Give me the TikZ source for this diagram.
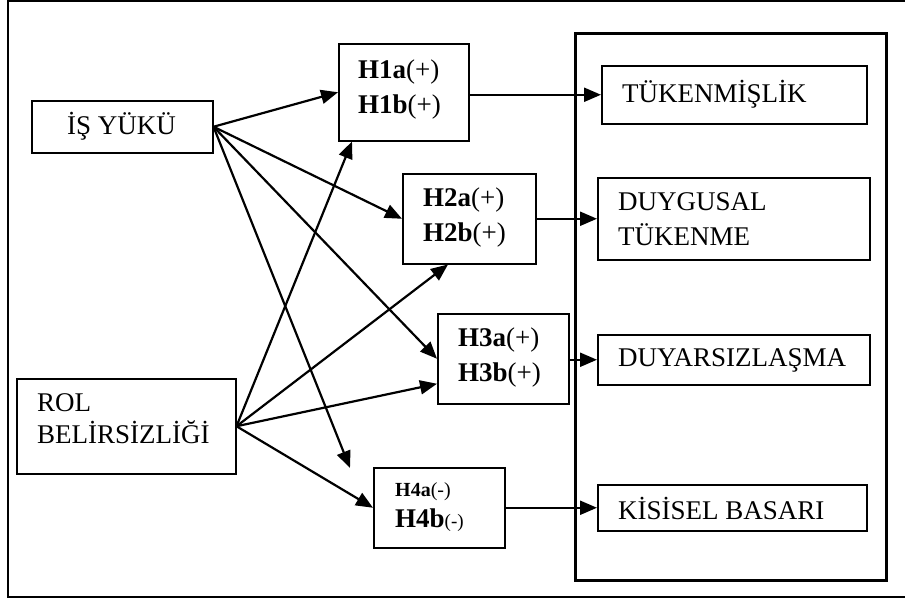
\documentclass[tikz,border=0pt]{standalone}
\usepackage{fontspec}
\setmainfont{Liberation Serif}
\usetikzlibrary{arrows.meta}
\begin{document}
\begin{tikzpicture}[x=1pt,y=-1pt,
  box/.style={draw, line width=1.5pt, inner sep=0pt, anchor=north west},
  lbl/.style={anchor=west, inner sep=0pt, align=left, font=\fontsize{27}{35}\selectfont},
  hyp/.style={anchor=west, inner sep=0pt, align=left, font=\fontsize{27}{35}\selectfont},
  arr/.style={line width=2.2pt, -{Triangle[length=17pt,width=14pt]}}]
\useasboundingbox (0,0) rectangle (905,600);
% outer frame (open on the right)
\draw[line width=2pt] (905,1) -- (8,1) -- (8,597) -- (905,597);
% container
\node[box, line width=3pt, minimum width=311pt, minimum height=547pt] (cont) at (574,32) {};
% boxes
\node[box, minimum width=181pt, minimum height=52pt] (isy) at (31,100) {};
\node[box, minimum width=219pt, minimum height=95pt] (rol) at (16,378) {};
\node[box, minimum width=130pt, minimum height=97pt] (h1) at (338,43) {};
\node[box, minimum width=133pt, minimum height=90pt] (h2) at (402,173) {};
\node[box, minimum width=131pt, minimum height=90pt] (h3) at (437,313) {};
\node[box, minimum width=131pt, minimum height=80pt] (h4) at (373,467) {};
\node[box, minimum width=265pt, minimum height=58pt] (tuk) at (601,65) {};
\node[box, minimum width=272pt, minimum height=82pt] (duy) at (597,177) {};
\node[box, minimum width=272pt, minimum height=50pt] (dyr) at (597,334) {};
\node[box, minimum width=269pt, minimum height=46pt] (kis) at (597,484) {};
% texts
\node[lbl] (tisy) at (67,126) {İŞ YÜKÜ};
\node[lbl, font=\fontsize{27}{32}\selectfont] (trol) at (37,419) {ROL\\BELİRSİZLİĞİ};
\node[hyp] (th1) at (358,89.5) {\textbf{H1a}(+)\\\textbf{H1b}(+)};
\node[hyp] (th2) at (423,217.5) {\textbf{H2a}(+)\\\textbf{H2b}(+)};
\node[hyp] (th3) at (458,357.5) {\textbf{H3a}(+)\\\textbf{H3b}(+)};
\node[hyp, font=\fontsize{27}{31}\selectfont] (th4) at (395,507) {{\fontsize{20}{22}\selectfont\textbf{H4a}(-)}\\\textbf{H4b}{\fontsize{19}{20}\selectfont(-)}};
\node[lbl] (ttuk) at (622,94) {TÜKENMİŞLİK};
\node[lbl] (tduy) at (618,219.5) {DUYGUSAL\\TÜKENME};
\node[lbl] (tdyr) at (618,360) {DUYARSIZLAŞMA};
\node[lbl] (tkis) at (618,508) {KİSİSEL BASARI};
% free end
\coordinate (free) at (350,468);
% arrows from İŞ YÜKÜ
\draw[arr] (isy.east) -- (h1.west);
\draw[arr] (isy.east) -- (h2.west);
\draw[arr] (isy.east) -- (h3.west);
\draw[arr] (isy.east) -- (free);
% arrows from ROL BELİRSİZLİĞİ
\draw[arr] (rol.east) -- ([xshift=14pt]h1.south west);
\draw[arr] (rol.east) -- ([xshift=46pt]h2.south west);
\draw[arr] (rol.east) -- ([yshift=-25pt]h3.west);
\draw[arr] (rol.east) -- (h4.west);
% arrows to outcomes
\draw[arr] (h1.east |- tuk.west) -- (tuk.west);
\draw[arr] (h2.east |- duy.west) -- (duy.west);
\draw[arr] (h3.east |- dyr.west) -- (dyr.west);
\draw[arr] (h4.east |- kis.west) -- (kis.west);
\end{tikzpicture}
\end{document}
